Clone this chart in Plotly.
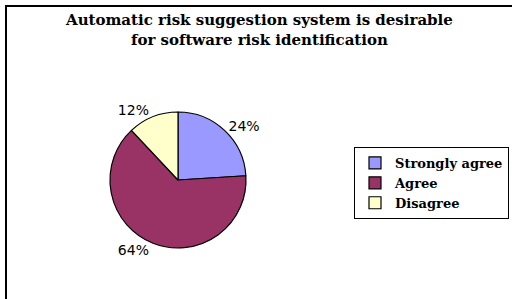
import plotly.graph_objects as go

categories = ["Strongly agree", "Agree", "Disagree"]
values = [24, 64, 12]
colors = ["#9999FF", "#993366", "#FFFFCC"]
title_lines = ["Automatic risk suggestion system is desirable", "for software risk identification"]

W, H = 512, 299
cx, cy, r = 178, 180, 68

fig = go.Figure(go.Pie(
    labels=["<b>" + c + "</b>" for c in categories],
    values=values,
    sort=False,
    direction="clockwise",
    rotation=0,
    marker=dict(colors=colors, line=dict(color="black", width=1.2)),
    texttemplate="%{percent:.0%}",
    textposition="outside",
    textfont=dict(family="DejaVu Sans", size=14, color="black"),
    domain=dict(x=[(cx - r) / W, (cx + r) / W], y=[1 - (cy + r) / H, 1 - (cy - r) / H]),
    showlegend=True,
    hoverinfo="label+percent",
))

fig.update_layout(
    width=W, height=H,
    margin=dict(l=0, r=0, t=0, b=0),
    paper_bgcolor="white",
    plot_bgcolor="white",
    legend=dict(
        x=354 / W, y=1 - 147 / H, xanchor="left", yanchor="top",
        bordercolor="black", borderwidth=1,
        font=dict(family="DejaVu Serif", size=13, color="black"),
        itemwidth=30, tracegroupgap=0,
    ),
    annotations=[dict(
        text="<b>" + "<br>".join(title_lines) + "</b>",
        x=259 / W, y=1 - 9 / H, xref="paper", yref="paper",
        xanchor="center", yanchor="top", showarrow=False,
        font=dict(family="DejaVu Serif", size=15, color="black"),
        align="center",
    )],
    shapes=[dict(type="rect", xref="paper", yref="paper",
                 x0=6 / W, y0=-0.1, x1=1.1, y1=1 - 6 / H,
                 line=dict(color="black", width=2), fillcolor="rgba(0,0,0,0)")],
)

fig.write_html("out.html", post_script="document.body.style.margin='0';",
               config={"displayModeBar": False})
